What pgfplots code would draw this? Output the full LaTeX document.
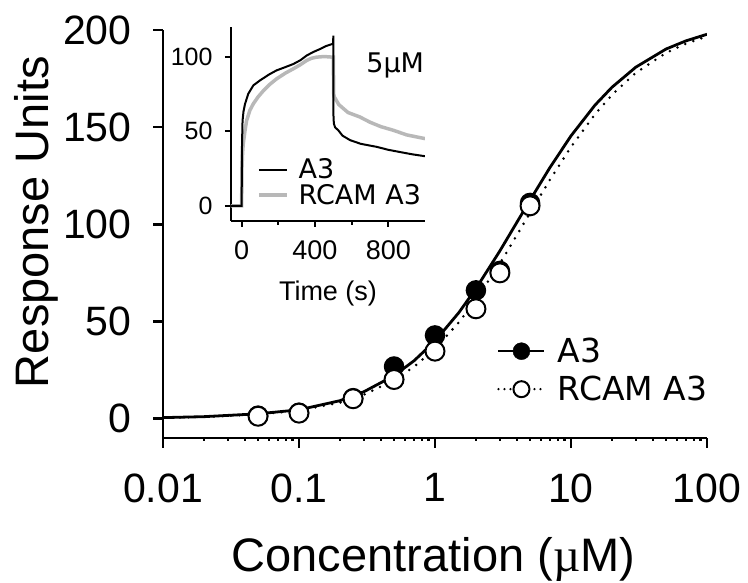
\documentclass[border=0pt]{standalone}
\usepackage{fontspec}
\setmainfont{Liberation Sans}
\newfontfamily\dejavu{DejaVu Sans}
\newfontfamily\lserif{Liberation Serif}
\usepackage{pgfplots}
\pgfplotsset{compat=1.18}

\pgfplotstableread{
x y
0.05 1.5
0.1 3.0
0.25 10.5
0.5 26.8
1 42.8
2 66
3 76
5 111
}\dataA

\pgfplotstableread{
x y
0.05 1.2
0.1 2.8
0.25 10.2
0.5 20.1
1 34.7
2 56.5
3 75
5 109.5
}\dataR

\pgfplotstableread{
x y
0.01 0.49
0.02 0.98
0.05 2.45
0.1 4.5
0.2 9.2
0.3 13.8
0.5 22.1
0.7 29.7
1 39.9
1.5 54.6
2 66.9
3 86.3
4 101.0
5 112.4
7 129.2
10 145.5
15 161.3
20 170.5
30 180.9
50 190.2
70 194.4
100 197.8
}\fitA

\pgfplotstableread{
x y
0.01 0.43
0.02 0.87
0.05 2.16
0.1 4.1
0.2 8.2
0.3 12.3
0.5 19.7
0.7 26.6
1 35.9
1.5 49.6
2 61.2
3 79.8
4 94.4
5 105.9
7 122.9
10 139.8
15 156.6
20 166.6
30 178.0
50 188.2
70 193.0
100 196.7
}\fitR

\pgfplotstableread{
t v
-58 0
0 0
1 20
2 40
4 52
5 57
10 63
18 68
36 75
64 80.7
100 84
150 88
190 90.7
240 93
282 95
320 97.5
355 100.7
390 103
427 105
460 107
496 108.5
499 108.8
500 114
501 60
503 55
510 52.5
527 50.6
550 47
591 44
650 41.5
736 39.5
800 37.5
864 36
930 34.5
1000 33.2
}\kinA

\pgfplotstableread{
t v
-58 0
0 0
2 26
5 35
9 41.7
18 50
27 57
45 64
64 68.4
90 73
118 77
150 81
190 85
240 89
282 91.8
320 94.5
355 97.4
380 98.8
409 99.6
450 100
496 99.6
500 99.6
502 75
505 73
530 67.8
580 62.5
645 59.5
700 56
760 53
827 50.6
900 47.5
1000 45
}\kinR

\begin{document}
\begin{tikzpicture}
\path[use as bounding box] (-163pt,-145pt) rectangle (585pt,438pt);
\begin{axis}[
  at={(0pt,0pt)}, anchor=south west,
  scale only axis, width=544pt, height=408pt,
  xmode=log, xmin=0.01, xmax=100, ymin=-10, ymax=200,
  axis lines=left, axis line style={-, line width=2.6pt},
  tick align=outside, major tick length=10pt,
  tick style={line width=2.6pt, black},
  xtick={0.01,0.1,1,10,100}, xticklabels={0.01,0.1,1,10,100},
  minor xtick={},
  ytick={0,50,100,150,200},
  /pgf/number format/assume math mode=true,
  tick label style={font=\fontsize{41}{48}\selectfont},
  xticklabel style={yshift=-22pt},
  yticklabel style={xshift=-18pt},
  xlabel={Concentration ({\lserif µ}M)},
  ylabel={Response Units},
  every axis x label/.style={at={(axis description cs:0.497,-0.326)}, anchor=base, font=\fontsize{47}{56}\selectfont},
  every axis y label/.style={at={(axis description cs:-0.2096,0.529)}, anchor=base, rotate=90, font=\fontsize{47}{56}\selectfont},
  legend style={at={(axis description cs:0.614,0.25)}, anchor=north west, draw=none, fill=none,
    font=\dejavu\fontsize{33}{40}\selectfont, inner sep=0pt, column sep=10pt, row sep=8pt},
  legend cell align=left,
]
\addplot[black, line width=2.8pt, forget plot] table {\fitA};
\addplot[black, line width=2.8pt, dash pattern=on 0pt off 8.5pt, line cap=round, forget plot] table {\fitR};
\addplot[only marks, mark=*, mark size=9.5pt, mark options={fill=black, draw=black, line width=1.5pt},
  legend image code/.code={\draw[black, line width=2.5pt] (0pt,0pt)--(46pt,0pt); \fill[black] (23pt,0pt) circle (8.5pt);}]
  table {\dataA};
\addlegendentry{A3}
\addplot[only marks, mark=*, mark size=9.5pt, mark options={fill=white, draw=black, line width=2pt},
  legend image code/.code={\draw[black, line width=2.5pt, dash pattern=on 0pt off 6pt, line cap=round] (0pt,0pt)--(46pt,0pt); \draw[black, fill=white, line width=2pt] (23pt,0pt) circle (8pt);}]
  table {\dataR};
\addlegendentry{RCAM A3}
\end{axis}

\begin{axis}[
  at={(68pt,217.3pt)}, anchor=south west,
  scale only axis, width=194pt, height=194pt,
  xmin=-58, xmax=1000, ymin=-10, ymax=120,
  axis lines=left, axis line style={-, line width=2pt},
  tick align=outside, major tick length=6pt, minor tick length=4pt,
  tick style={line width=2pt, black},
  xtick={0,400,800}, minor xtick={200,600},
  ytick={0,50,100},
  /pgf/number format/assume math mode=true,
  xticklabel style={font=\fontsize{27}{32}\selectfont, yshift=-10pt},
  yticklabel style={font=\fontsize{25}{30}\selectfont, xshift=-9pt},
  xlabel={Time (s)},
  every axis x label/.style={at={(axis description cs:0.5,-0.409)}, anchor=base, font=\fontsize{27}{32}\selectfont},
  legend style={at={(axis description cs:0.134,0.33)}, anchor=north west, draw=none, fill=none,
    font=\dejavu\fontsize{27}{32}\selectfont, inner sep=0pt, column sep=8pt, row sep=0pt},
  legend cell align=left,
  legend image code/.code={\draw[#1] (0pt,0pt) -- (28pt,0pt);},
]
\addplot[black!28, line width=3.5pt, forget plot] table {\kinR};
\addplot[black, line width=2pt] table {\kinA};
\addlegendentry{A3}
\addlegendimage{black!28, line width=3.5pt}
\addlegendentry{RCAM A3}
\node[anchor=base west, font=\dejavu\fontsize{27}{32}\selectfont] at (axis cs:661,89.6) {5µM};
\end{axis}
\end{tikzpicture}
\end{document}
